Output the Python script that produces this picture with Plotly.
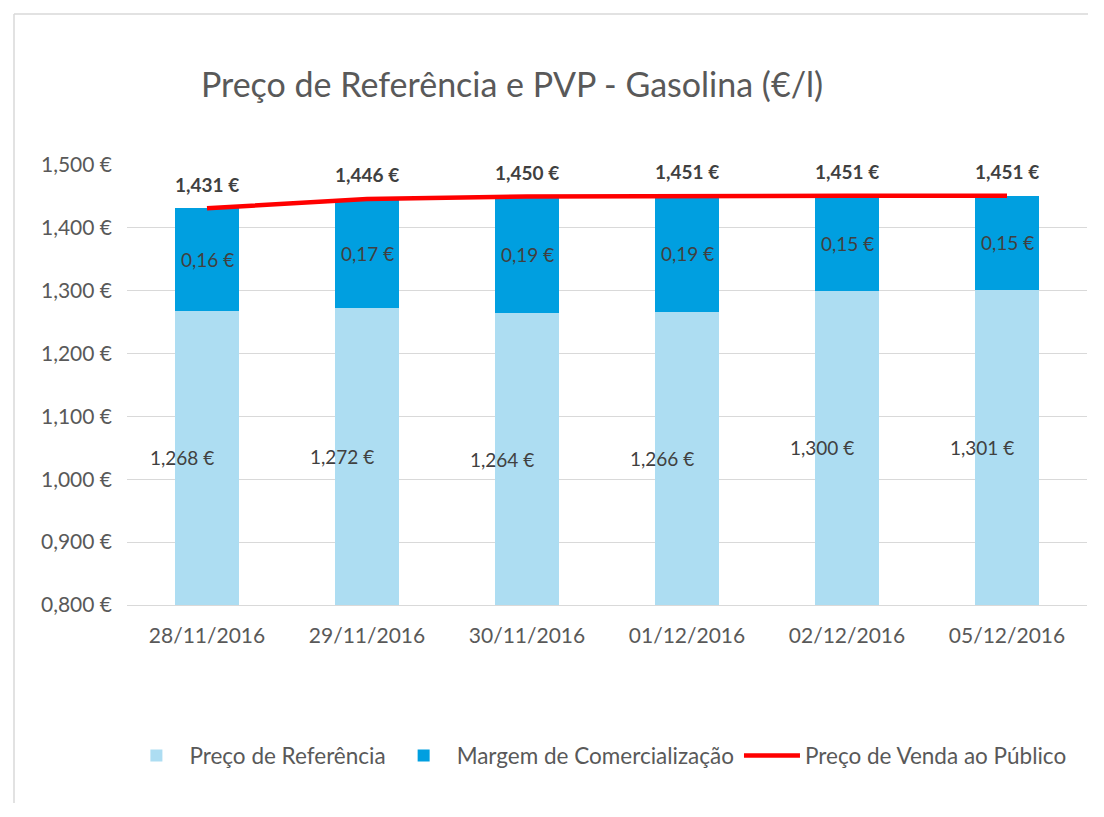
import plotly.graph_objects as go

dates = ["28/11/2016", "29/11/2016", "30/11/2016", "01/12/2016", "02/12/2016", "05/12/2016"]
preco_referencia = [1.268, 1.272, 1.264, 1.266, 1.300, 1.301]
margem = [0.163, 0.174, 0.186, 0.186, 0.151, 0.150]
pvp = [1.431, 1.446, 1.450, 1.451, 1.451, 1.451]

y_min, y_max = 0.8, 1.5

def fmt(v, d):
    return f"{v:.{d}f}".replace(".", ",") + " €"

FONT = "Lato"
TXT = "#404040"
GREY = "#595959"

fig = go.Figure()
fig.add_trace(go.Bar(
    x=dates, y=preco_referencia, name="Preço de Referência",
    marker=dict(color="#ADDDF2", line=dict(width=0)),
))
fig.add_trace(go.Bar(
    x=dates, y=margem, name="Margem de Comercialização",
    marker=dict(color="#009FE0", line=dict(width=0)),
))
fig.add_trace(go.Scatter(
    x=dates, y=pvp, name="Preço de Venda ao Público", mode="lines",
    line=dict(color="#FF0000", width=4.5),
))

annotations = []
for d, r, m, p in zip(dates, preco_referencia, margem, pvp):
    annotations.append(dict(x=d, y=(y_min + r) / 2, text=fmt(r, 3), showarrow=False,
                            xshift=-25, font=dict(family=FONT, size=19, color=TXT)))
    annotations.append(dict(x=d, y=r + m / 2, text=fmt(m, 2), showarrow=False,
                            font=dict(family=FONT, size=19, color=TXT)))
    annotations.append(dict(x=d, y=p, text="<b>" + fmt(p, 3) + "</b>", showarrow=False,
                            yshift=24, font=dict(family=FONT, size=19, color=TXT)))

# page body has an 8px margin, so figure is drawn at (8, 8); keep it inside the window
W, H = 1080, 795
L, T, PW, PH = 119, 157, 960, 440
B = H - T - PH

x_left = (6 - L) / PW
x_right = (W - L) / PW
y_top = (PH + T - 6) / PH
y_bottom = -B / PH

fig.update_layout(
    width=W, height=H,
    margin=dict(l=L, r=W - L - PW, t=T, b=B),
    paper_bgcolor="white", plot_bgcolor="white",
    barmode="stack", bargap=0.6,
    separators=",.",
    font=dict(family=FONT, size=21, color=GREY),
    title=dict(text="Preço de Referência e PVP - Gasolina (€/l)",
               x=(504 - L) / PW, xref="paper", xanchor="center",
               y=1 - 77 / H, yref="container", yanchor="middle",
               font=dict(family=FONT, size=34, color=GREY)),
    legend=dict(orientation="h", x=0.49, xanchor="center", y=-0.343, yanchor="middle",
                itemwidth=56,
                font=dict(family=FONT, size=22.5, color=GREY), traceorder="normal"),
    annotations=annotations,
    shapes=[
        dict(type="line", xref="paper", yref="paper", x0=x_left, x1=x_right, y0=y_top, y1=y_top,
             line=dict(color="#D9D9D9", width=1.5), layer="below"),
        dict(type="line", xref="paper", yref="paper", x0=x_left, x1=x_left, y0=y_bottom, y1=y_top,
             line=dict(color="#D9D9D9", width=1.5), layer="below"),
    ],
)
fig.update_yaxes(range=[y_min, y_max], dtick=0.1, tickformat=".3f", ticksuffix=" €",
                 showgrid=True, gridcolor="#D9D9D9", gridwidth=1, zeroline=False,
                 ticklabelstandoff=14, tickfont=dict(family=FONT, size=21, color=GREY))
fig.update_xaxes(showline=True, linecolor="#D9D9D9", linewidth=1,
                 ticklabelstandoff=12, tickfont=dict(family=FONT, size=21, color=GREY))

fig.write_html("out.html")
